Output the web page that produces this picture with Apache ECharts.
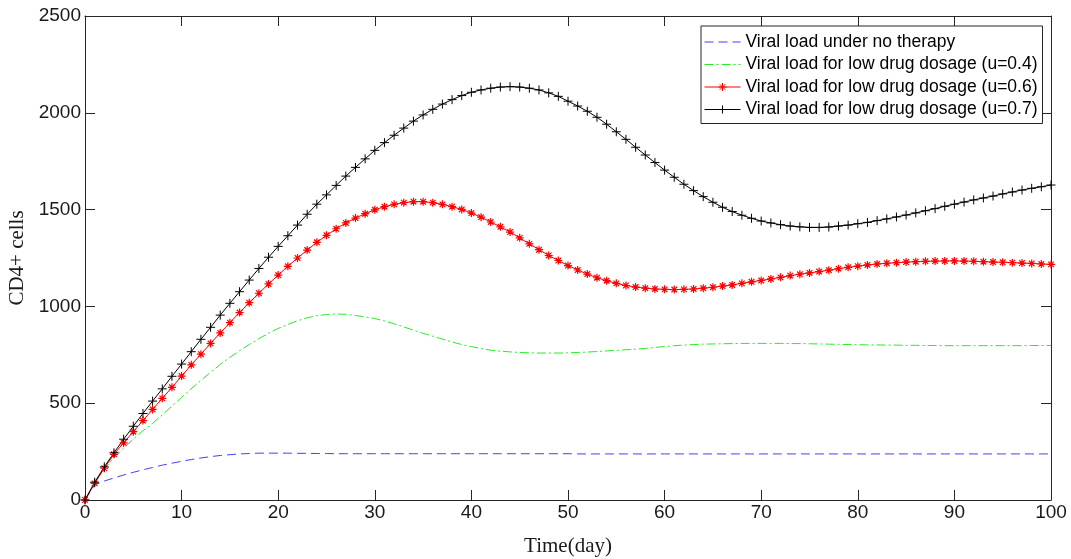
<!DOCTYPE html>
<html>
<head>
<meta charset="utf-8">
<style>
  html, body { margin: 0; padding: 0; background: #fff; }
  #main { width: 1071px; height: 559px; }
</style>
<script src="https://cdn.jsdelivr.net/npm/echarts@6/dist/echarts.min.js"></script>
</head>
<body>
<div id="main"></div>
<script>
// time axis (days)
var days = [0, 1, 2, 3, 4, 5, 6, 7, 8, 9, 10, 11, 12, 13, 14, 15, 16, 17, 18, 19, 20,
  21, 22, 23, 24, 25, 26, 27, 28, 29, 30, 31, 32, 33, 34, 35, 36, 37, 38, 39, 40,
  41, 42, 43, 44, 45, 46, 47, 48, 49, 50, 51, 52, 53, 54, 55, 56, 57, 58, 59, 60,
  61, 62, 63, 64, 65, 66, 67, 68, 69, 70, 71, 72, 73, 74, 75, 76, 77, 78, 79, 80,
  81, 82, 83, 84, 85, 86, 87, 88, 89, 90, 91, 92, 93, 94, 95, 96, 97, 98, 99, 100];

var noTherapy = [0, 78, 98, 114, 129, 143, 156, 168, 180, 190, 200, 209, 217, 224, 230, 234, 238, 240, 242, 242, 242,
  242, 241, 241, 240, 240, 239, 239, 239, 239, 239, 239, 239, 239, 239, 239, 239, 239, 239, 239, 239,
  239, 239, 239, 239, 239, 239, 239, 239, 239, 239, 238, 238, 238, 238, 238, 238, 238, 238, 238, 238,
  238, 238, 238, 238, 238, 238, 238, 238, 238, 238, 238, 238, 238, 238, 238, 238, 238, 238, 238, 238,
  238, 238, 238, 238, 238, 238, 238, 238, 238, 238, 238, 238, 238, 238, 238, 238, 238, 238, 238, 238];

var dose04 = [0, 88, 162, 218, 268, 315, 358, 396, 440, 485, 530, 575, 618, 660, 700, 737, 771, 803, 833, 862, 886,
  907, 926, 941, 952, 958, 961, 959, 953, 946, 937, 925, 910, 894, 877, 861, 846, 831, 816, 803, 792,
  782, 774, 769, 765, 762, 760, 759, 759, 759, 760, 762, 764, 767, 770, 773, 776, 779, 783, 788, 793,
  797, 800, 803, 805, 806, 807, 808, 809, 809, 809, 809, 809, 808, 808, 807, 806, 805, 804, 803, 802,
  801, 801, 800, 800, 799, 799, 798, 798, 797, 797, 797, 797, 797, 797, 797, 797, 797, 798, 798, 798];

var dose06 = [0, 86, 164, 236, 295, 353, 410, 468, 525, 582, 640, 698, 753, 809, 863, 916, 968, 1019, 1068, 1116, 1162,
  1207, 1250, 1291, 1331, 1367, 1401, 1431, 1456, 1479, 1499, 1515, 1527, 1536, 1541, 1541, 1536, 1527, 1515, 1501, 1482,
  1461, 1436, 1411, 1384, 1354, 1323, 1293, 1263, 1237, 1211, 1188, 1167, 1148, 1133, 1119, 1108, 1100, 1094, 1090, 1088,
  1087, 1088, 1090, 1094, 1099, 1105, 1111, 1119, 1127, 1134, 1142, 1150, 1159, 1166, 1173, 1180, 1187, 1195, 1202, 1208,
  1214, 1219, 1223, 1226, 1229, 1231, 1233, 1234, 1235, 1235, 1234, 1233, 1231, 1229, 1228, 1226, 1224, 1222, 1219, 1217];

var dose07 = [0, 92, 171, 244, 314, 381, 447, 511, 574, 639, 702, 766, 830, 892, 955, 1016, 1076, 1136, 1196, 1254, 1310,
  1365, 1420, 1476, 1528, 1576, 1625, 1673, 1718, 1762, 1806, 1846, 1884, 1921, 1957, 1989, 2018, 2045, 2068, 2089, 2106,
  2118, 2127, 2133, 2135, 2133, 2127, 2118, 2103, 2085, 2060, 2035, 2008, 1977, 1941, 1902, 1863, 1822, 1782, 1743, 1704,
  1667, 1631, 1598, 1567, 1538, 1512, 1490, 1471, 1455, 1441, 1431, 1422, 1415, 1411, 1408, 1408, 1410, 1415, 1420, 1427,
  1434, 1443, 1452, 1462, 1472, 1483, 1494, 1505, 1517, 1528, 1539, 1550, 1560, 1570, 1581, 1591, 1601, 1610, 1618, 1627];

var names = [
  "Viral load under no therapy",
  "Viral load for low drug dosage (u=0.4)",
  "Viral load for low drug dosage (u=0.6)",
  "Viral load for low drug dosage (u=0.7)"
];

// MATLAB-like markers
var asterisk = "path://M5,0L5,10M0,5L10,5M1.5,1.5L8.5,8.5M1.5,8.5L8.5,1.5";
var plus = "path://M5,0L5,10M0,5L10,5";

function pairs(ys) {
  return days.map(function (d, i) { return [d, ys[i]]; });
}

var axisColor = "#262626";
var tickFont = { fontSize: 19, fontFamily: "Liberation Sans", color: "#1a1a1a" };

function xAxisCfg(pos, showLabel) {
  return {
    type: "value", position: pos, min: 0, max: 100, interval: 10,
    axisLine: { show: true, onZero: false, lineStyle: { color: axisColor, width: 1 } },
    axisTick: { show: true, inside: true, length: 10, lineStyle: { color: axisColor } },
    axisLabel: Object.assign({ show: showLabel, margin: 3, formatter: function (v) { return String(v); } }, tickFont),
    splitLine: { show: false }
  };
}

function yAxisCfg(pos, showLabel) {
  return {
    type: "value", position: pos, min: 0, max: 2500, interval: 500,
    axisLine: { show: true, onZero: false, lineStyle: { color: axisColor, width: 1 } },
    axisTick: { show: true, inside: true, length: 10, lineStyle: { color: axisColor } },
    axisLabel: Object.assign({ show: showLabel, margin: 4, formatter: function (v) { return String(v); } }, tickFont),
    splitLine: { show: false }
  };
}

var xBottom = xAxisCfg("bottom", true);
xBottom.name = "Time(day)";
xBottom.nameLocation = "middle";
xBottom.nameGap = 36;
xBottom.nameTextStyle = { fontSize: 21, fontFamily: "Liberation Serif", color: "#1a1a1a" };

var yLeft = yAxisCfg("left", true);
yLeft.name = "CD4+ cells";
yLeft.nameLocation = "middle";
yLeft.nameGap = 57;
yLeft.nameTextStyle = { fontSize: 21, fontFamily: "Liberation Serif", color: "#1a1a1a" };

var myChart = echarts.init(document.getElementById("main"));
myChart.setOption({
  animation: false,
  backgroundColor: "#fff",
  grid: { left: 85, right: 20, top: 16, bottom: 59, containLabel: false, outerBoundsMode: "none" },
  xAxis: [xBottom, xAxisCfg("top", false)],
  yAxis: [yLeft, yAxisCfg("right", false)],
  legend: {
    orient: "vertical",
    left: 701,
    top: 26,
    padding: [7, 5, 5, 3],
    itemGap: 4.5,
    itemWidth: 36,
    itemHeight: 10,
    backgroundColor: "#fff",
    borderColor: axisColor,
    borderWidth: 1,
    borderRadius: 0,
    selectedMode: false,
    lineStyle: { width: 1 },
    itemStyle: { borderWidth: 1 },
    textStyle: { fontSize: 17.5, lineHeight: 18, fontFamily: "Liberation Sans", color: "#000" },
    data: [
      { name: names[0], itemStyle: { opacity: 0 } },
      { name: names[1], itemStyle: { opacity: 0 } },
      { name: names[2] },
      { name: names[3] }
    ]
  },
  series: [
    {
      name: names[0], type: "line", data: pairs(noTherapy),
      symbol: "circle", showSymbol: false, silent: true,
      lineStyle: { color: "#4040ff", width: 1, type: [9, 5] },
      itemStyle: { color: "#4040ff" }
    },
    {
      name: names[1], type: "line", data: pairs(dose04),
      symbol: "circle", showSymbol: false, silent: true,
      lineStyle: { color: "#22ee22", width: 1, type: [9, 3, 2, 3] },
      itemStyle: { color: "#22ee22" }
    },
    {
      name: names[2], type: "line", data: pairs(dose06),
      symbol: asterisk, symbolSize: 8, silent: true,
      lineStyle: { color: "#ff0000", width: 1 },
      itemStyle: { color: "#ff0000", borderColor: "#ff0000", borderWidth: 1.2 }
    },
    {
      name: names[3], type: "line", data: pairs(dose07),
      symbol: plus, symbolSize: 9, silent: true,
      lineStyle: { color: "#000", width: 1 },
      itemStyle: { color: "#000", borderColor: "#000", borderWidth: 1 }
    }
  ]
});
</script>
</body>
</html>
